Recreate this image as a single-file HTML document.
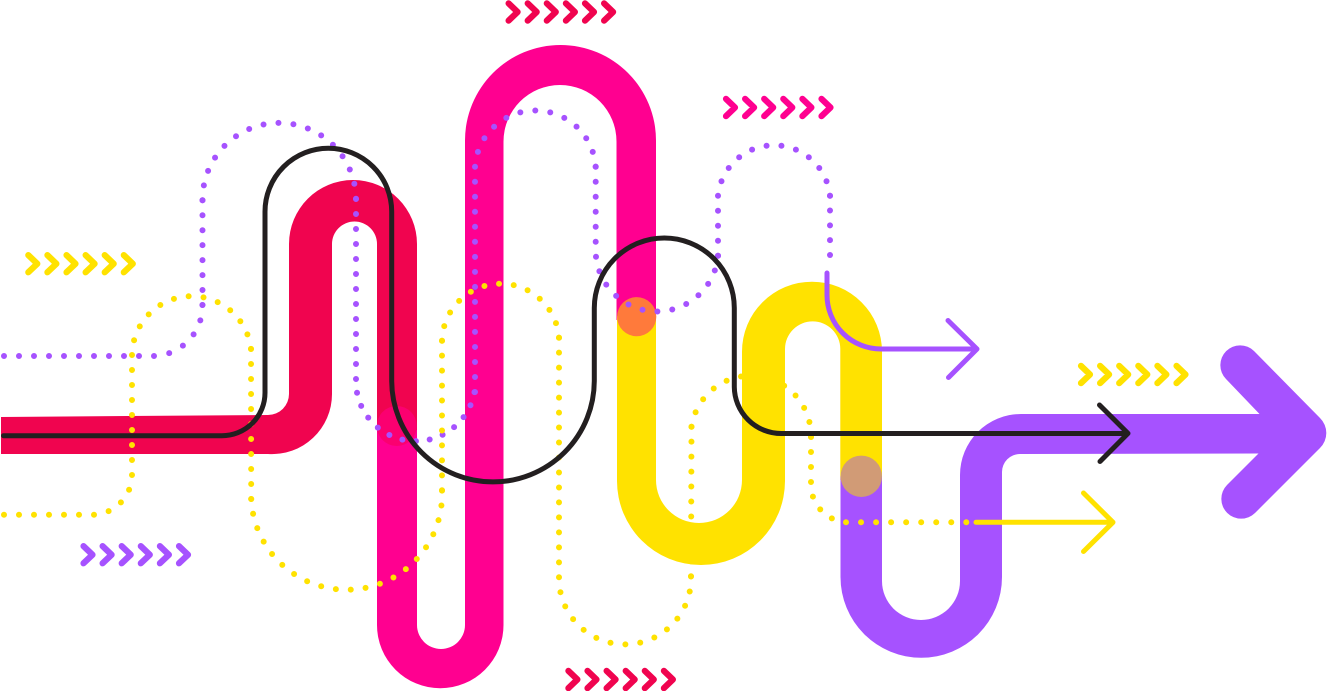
<!DOCTYPE html>
<html><head><meta charset="utf-8"><style>html,body{margin:0;padding:0;background:#fff;width:1327px;height:691px;overflow:hidden}svg{display:block}</style></head>
<body>
<svg width="1327" height="691" viewBox="0 0 1327 691" xmlns="http://www.w3.org/2000/svg">
<defs>
<g id="c" fill="none" stroke-width="6.2" stroke-linecap="round" stroke-linejoin="round">
<path d="M-9 -8.6L0 0L-9 8.6M10.1 -8.6L19.1 0L10.1 8.6M29.2 -8.6L38.2 0L29.2 8.6M48.3 -8.6L57.3 0L48.3 8.6M67.4 -8.6L76.4 0L67.4 8.6M86.5 -8.6L95.5 0L86.5 8.6"/>
</g>
</defs>
<!-- thick bands -->
<path fill="#ff0090" d="M377 400L417 400L417 625A24 24 0 0 0 465 625L465 140.5A95.5 95.5 0 0 1 656 140.5L656 320L616.5 320L616.5 141.5A56.5 56.5 0 0 0 503.5 141.5L503.5 625A63.25 63.25 0 0 1 377 625Z"/>
<path fill="#f0044f" d="M1 417L268 415A21 21 0 0 0 289 394L289 244A64 64 0 0 1 417 244L417 430L377 430L377 244A22.5 22.5 0 0 0 332 244L332 394A60 60 0 0 1 268 454L1 454Z"/>
<circle cx="396.8" cy="426" r="20" fill="#fb0070"/>
<path fill="#ffe200" d="M617 316L656 316L656 480A43 43 0 0 0 742 480L742 351.7A70 70 0 0 1 882 351.7L882 480L840.3 480L840.3 349A27.65 27.65 0 0 0 785 349L785 481A84 84 0 0 1 617 481Z"/>
<path fill="#a652ff" d="M840.5 476L882 476L882 581A39 39 0 0 0 960 581L960 475A61 61 0 0 1 1021 414L1259.5 414L1226 379A19.8 19.8 0 0 1 1254 351L1320 418A21 21 0 0 1 1320 448L1255 513A19.8 19.8 0 0 1 1227 485L1258.5 453.5L1020 454A18 18 0 0 0 1002 472L1002 577A80.75 80.75 0 0 1 840.5 577Z"/>
<circle cx="636.7" cy="316.7" r="19.6" fill="#ff7a3b"/>
<circle cx="861.3" cy="476.3" r="20.7" fill="#d19b76"/>
<!-- chevrons -->
<use href="#c" x="517.6" y="12" stroke="#f0044f"/>
<use href="#c" x="735" y="107.5" stroke="#ff0090"/>
<use href="#c" x="37.3" y="263.7" stroke="#ffe200"/>
<use href="#c" x="1090" y="374.5" stroke="#ffe200"/>
<use href="#c" x="92.5" y="554.7" stroke="#a652ff"/>
<use href="#c" x="577.4" y="679.5" stroke="#f0044f"/>
<!-- dotted purple -->
<g fill="none" stroke="#a652ff" stroke-width="6" stroke-linecap="round" stroke-dasharray="0 1">
<path pathLength="10" d="M4 356L154 356"/>
<path pathLength="5" d="M154 356A50 50 0 0 0 202.4 305"/>
<path pathLength="7" d="M202.5 305L202.5 200.3"/>
<path pathLength="16" d="M202.5 200.3A76.75 76.75 0 0 1 356 199"/>
<path pathLength="12" d="M356 199L356 379"/>
<path pathLength="13" d="M356 379A59.75 59.75 0 0 0 474.5 392"/>
<path pathLength="15" d="M475 392L475 166.7"/>
<path pathLength="12" d="M475 166.7A60.5 60.5 0 0 1 595.7 166.7"/>
<path pathLength="6" d="M595.7 166.7L595.7 256.7"/>
<path pathLength="12" d="M596 256.7A61.3 61.3 0 0 0 718 255.7"/>
<path pathLength="4" d="M718 255.7L718 195.7"/>
<path pathLength="11" d="M718 195.7A56.3 56.3 0 0 1 830 195.7"/>
<path pathLength="4" d="M830 195.7L830 255"/>
</g>
<circle cx="830" cy="255" r="3" fill="#a652ff"/>
<!-- dotted yellow -->
<g fill="none" stroke="#ffe200" stroke-width="6" stroke-linecap="round" stroke-dasharray="0 1">
<path pathLength="6" d="M4 514.7L94 514.7"/>
<path pathLength="4" d="M94 514.7A40 40 0 0 0 132 475"/>
<path pathLength="8" d="M132 475L132 355"/>
<path pathLength="12" d="M132 355A59.7 59.7 0 0 1 251 349"/>
<path pathLength="10" d="M251 349L251.2 499"/>
<path pathLength="20" d="M251.2 499A95.5 95.5 0 0 0 442 490.3"/>
<path pathLength="10" d="M442 490.3L442 340.7"/>
<path pathLength="12" d="M442 340.7A58.6 58.6 0 0 1 559 337.7"/>
<path pathLength="16" d="M559 337.7L559 577.3"/>
<path pathLength="14" d="M559 577.3A66.02 66.02 0 1 0 691 576.3"/>
<path pathLength="10" d="M691 576.3L691.5 426.7"/>
<path pathLength="12" d="M691.5 426.7A60.1 60.1 0 0 1 811 437"/>
<path pathLength="3" d="M811 437L811 482"/>
<path pathLength="4" d="M811 482A38 38 0 0 0 846 522.3"/>
<path pathLength="8" d="M846 522.3L966.3 522.3"/>
</g>
<circle cx="966.3" cy="522.3" r="3" fill="#ffe200"/>
<!-- thin arrows -->
<path fill="none" stroke="#a652ff" stroke-width="5" stroke-linecap="round" stroke-linejoin="round" d="M827 273L827 295A54 54 0 0 0 881 349L977 349M948 320.5L977 349L948.5 377.5"/>
<path fill="none" stroke="#ffe200" stroke-width="5" stroke-linecap="round" stroke-linejoin="round" d="M976 522.3L1113 522.3M1083.5 493L1113 522.3L1083.5 551.5"/>
<path fill="none" stroke="#231f20" stroke-width="5" stroke-linecap="round" stroke-linejoin="round" d="M3.5 435.7L222 435.7A43 43 0 0 0 265 392.7L265 211.6A63.35 63.35 0 0 1 391.7 211.6L391.7 380.7A101.3 101.3 0 0 0 594.3 380.7L594.3 308A70 70 0 0 1 734.3 308L734.3 387A47 47 0 0 0 781.3 433.5L1127.5 433.5M1099.5 405L1128 433.4L1100 461.5"/>
</svg>
</body></html>
